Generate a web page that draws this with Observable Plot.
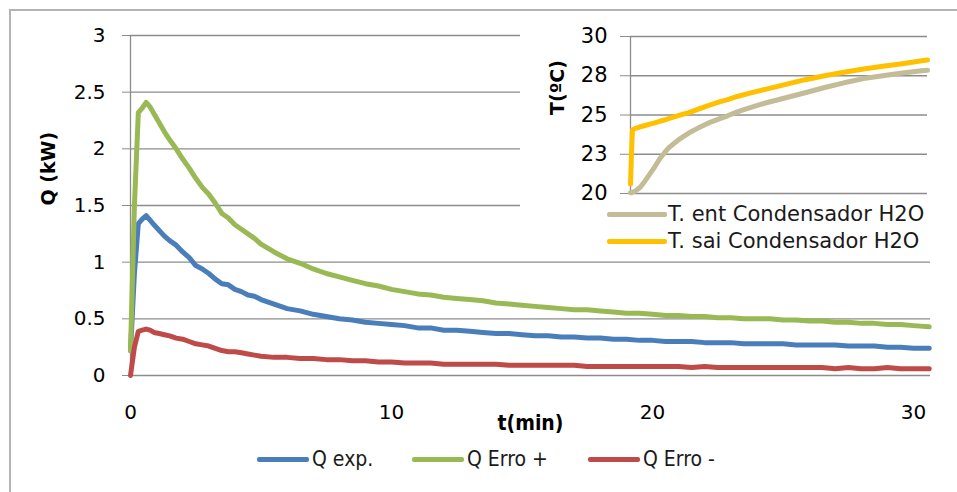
<!DOCTYPE html>
<html>
<head>
<meta charset="utf-8">
<script src="https://cdn.jsdelivr.net/npm/d3@7"></script>
<script src="https://cdn.jsdelivr.net/npm/@observablehq/plot@0.6"></script>
<style>
  html, body { margin: 0; padding: 0; background: #fff; }
  #wrap { position: relative; width: 957px; height: 492px; overflow: hidden; background: #fff; }
  #border { position: absolute; left: 9px; top: 9px; width: 1000px; height: 600px; border: 2px solid #b4b4b4; box-sizing: border-box; }
  #main { position: absolute; left: 0; top: 0; }
  #inset { position: absolute; left: 520px; top: 14px; width: 437px; height: 244px; background: #fff; }
  #insetLegend { position: absolute; left: 0; top: 188px; width: 437px; }
  .ileg { position: absolute; left: 87px; display: flex; align-items: center; font-family: "DejaVu Sans", Verdana, sans-serif; font-size: 21px; color: #1a1a1a; white-space: nowrap; }
  .ileg .sw { width: 60px; height: 5px; border-radius: 2px; margin-right: 1px; }
  #legend { position: absolute; left: 0; top: 446px; width: 957px; height: 26px; }
  .leg { position: absolute; top: 0; display: flex; align-items: center; height: 26px; font-family: "Liberation Sans Narrow", "DejaVu Sans Condensed", "DejaVu Sans", sans-serif; font-stretch: condensed; font-size: 21px; color: #1a1a1a; white-space: nowrap; }
  .leg .sw { width: 52px; height: 5px; border-radius: 2px; margin-right: 3px; }
</style>
</head>
<body>
<div id="wrap">
  <div id="border"></div>
  <div id="main"></div>
  <div id="legend"></div>
  <div id="inset"><div id="insetPlot"></div><div id="insetLegend"></div></div>
</div>
<script>
// ---------- data ----------
const timeMin = [0, 0.15, 0.3, 0.45, 0.6, 0.75, 0.9, 1.1, 1.3, 1.5, 1.75, 2, 2.25, 2.5, 2.75, 3, 3.25, 3.5, 3.75, 4, 4.25, 4.5, 4.75, 5,
  5.5, 6, 6.5, 7, 7.5, 8, 8.5, 9, 9.5, 10, 10.5, 11, 11.5, 12, 12.5, 13, 13.5, 14, 14.5, 15, 15.5, 16, 16.5, 17, 17.5, 18,
  18.5, 19, 19.5, 20, 20.5, 21, 21.5, 22, 22.5, 23, 23.5, 24, 24.5, 25, 25.5, 26, 26.5, 27, 27.5, 28, 28.5, 29, 29.5, 30, 30.6];

const qExp = [0.22, 0.90, 1.34, 1.38, 1.41, 1.37, 1.33, 1.28, 1.23, 1.19, 1.15, 1.09, 1.04, 0.97, 0.94, 0.90, 0.85, 0.81, 0.80, 0.76, 0.74, 0.71, 0.70, 0.67,
  0.63, 0.59, 0.57, 0.54, 0.52, 0.50, 0.49, 0.47, 0.46, 0.45, 0.44, 0.42, 0.42, 0.40, 0.40, 0.39, 0.38, 0.37, 0.37, 0.36, 0.35, 0.35, 0.34, 0.34, 0.33, 0.33,
  0.32, 0.32, 0.31, 0.31, 0.30, 0.30, 0.30, 0.29, 0.29, 0.29, 0.28, 0.28, 0.28, 0.28, 0.27, 0.27, 0.27, 0.27, 0.26, 0.26, 0.26, 0.25, 0.25, 0.24, 0.24];

const qErroMais = [0.22, 1.50, 2.32, 2.36, 2.41, 2.37, 2.31, 2.23, 2.15, 2.08, 2.00, 1.91, 1.83, 1.74, 1.66, 1.60, 1.52, 1.43, 1.39, 1.33, 1.29, 1.25, 1.21, 1.16,
  1.09, 1.03, 0.99, 0.94, 0.90, 0.87, 0.84, 0.81, 0.79, 0.76, 0.74, 0.72, 0.71, 0.69, 0.68, 0.67, 0.66, 0.64, 0.63, 0.62, 0.61, 0.60, 0.59, 0.58, 0.58, 0.57,
  0.56, 0.55, 0.55, 0.54, 0.53, 0.53, 0.52, 0.52, 0.51, 0.51, 0.50, 0.50, 0.50, 0.49, 0.49, 0.48, 0.48, 0.47, 0.47, 0.46, 0.46, 0.45, 0.45, 0.44, 0.43];

const qErroMenos = [0.00, 0.25, 0.39, 0.40, 0.41, 0.40, 0.38, 0.37, 0.36, 0.35, 0.33, 0.32, 0.30, 0.28, 0.27, 0.26, 0.24, 0.22, 0.21, 0.21, 0.20, 0.19, 0.18, 0.17,
  0.16, 0.16, 0.15, 0.15, 0.14, 0.14, 0.13, 0.13, 0.12, 0.12, 0.11, 0.11, 0.11, 0.10, 0.10, 0.10, 0.10, 0.10, 0.09, 0.09, 0.09, 0.09, 0.09, 0.09, 0.08, 0.08,
  0.08, 0.08, 0.08, 0.08, 0.08, 0.08, 0.07, 0.08, 0.07, 0.07, 0.07, 0.07, 0.07, 0.07, 0.07, 0.07, 0.07, 0.06, 0.07, 0.06, 0.06, 0.07, 0.06, 0.06, 0.06];

const timeInset = [0, 0.1, 0.2, 0.5, 1, 1.5, 2, 2.5, 3, 3.5, 4, 5, 6, 7, 8, 9, 10, 11, 12, 14, 16, 18, 20, 22, 24, 26, 28, 30, 30.6];
const tEnt = [20.05, 20.05, 20.08, 20.15, 20.4, 20.8, 21.25, 21.7, 22.2, 22.6, 22.95, 23.45, 23.85, 24.18, 24.48, 24.72, 24.95, 25.2, 25.4, 25.78, 26.1, 26.42, 26.75, 27.05, 27.32, 27.5, 27.68, 27.82, 27.85];
const tSai = [20.6, 22.5, 24.05, 24.15, 24.25, 24.33, 24.42, 24.5, 24.6, 24.68, 24.78, 24.97, 25.15, 25.38, 25.6, 25.8, 25.98, 26.18, 26.35, 26.65, 26.95, 27.25, 27.5, 27.72, 27.93, 28.1, 28.27, 28.45, 28.5];

const qTicks = [0, 0.5, 1, 1.5, 2, 2.5, 3];
const tTicks = [0, 10, 20, 30];
const tempTicks = [20, 22.5, 25, 27.5, 30];

const mainNames = ["Q exp.", "Q Erro +", "Q Erro -"];
const mainColors = ["#4a7ebb", "#98b954", "#be4b48"];
const insetNames = ["T. ent Condensador H2O", "T. sai Condensador H2O"];
const insetColors = ["#c4bc96", "#ffc000"];

// ---------- tables ----------
const mainSeries = [qExp, qErroMais, qErroMenos];
const mainRows = mainSeries.flatMap((vals, i) => vals.map((v, j) => ({t: timeMin[j], q: v, s: mainNames[i]})));
const insetSeries = [tEnt, tSai];
const insetRows = insetSeries.flatMap((vals, i) => vals.map((v, j) => ({t: timeInset[j], T: v, s: insetNames[i]})));

const gridColor = "#8c8c8c";

// ---------- main chart ----------
const main = Plot.plot({
  width: 957, height: 440,
  marginLeft: 130, marginRight: 27, marginTop: 35, marginBottom: 65,
  style: {fontFamily: "DejaVu Sans, Verdana, sans-serif", fontSize: "20px", background: "transparent", color: "#000", overflow: "visible"},
  x: {domain: [0, 30.65]},
  y: {domain: [0, 3]},
  color: {domain: mainNames, range: mainColors},
  marks: [
    Plot.gridY(qTicks, {stroke: gridColor, strokeOpacity: 1, strokeWidth: 1.3}),
    Plot.ruleX([0], {stroke: gridColor, strokeWidth: 1.3}),
    Plot.axisY({ticks: qTicks, tickSize: 8, tickPadding: 17, stroke: gridColor, fill: "#000", tickFormat: d => String(d), label: null}),
    Plot.axisX({ticks: tTicks, tickSize: 0, tickPadding: 29, fill: "#000", tickFormat: d => String(d), label: null}),
    Plot.line(mainRows, {x: "t", y: "q", z: "s", stroke: "s", strokeWidth: 5, strokeLinejoin: "round", strokeLinecap: "round"}),
    Plot.text(["Q (kW)"], {frameAnchor: "left", dx: -82, rotate: -90, fontWeight: "bold", fontSize: 19, fill: "#000"}),
    Plot.text(["t(min)"], {frameAnchor: "bottom", dy: 54, fontWeight: "bold", fontSize: 21, fontFamily: "Liberation Sans Narrow, DejaVu Sans Condensed, DejaVu Sans, sans-serif", fill: "#000"})
  ]
});
document.getElementById("main").appendChild(main);

// bottom legend
const legPos = [257, 412, 588];
const legend = document.getElementById("legend");
mainNames.forEach((n, i) => {
  const d = document.createElement("div");
  d.className = "leg";
  d.style.left = legPos[i] + "px";
  d.innerHTML = `<span class="sw" style="background:${mainColors[i]}"></span><span>${n}</span>`;
  legend.appendChild(d);
});

// ---------- inset chart ----------
const inset = Plot.plot({
  width: 437, height: 190,
  marginLeft: 110, marginRight: 30, marginTop: 22, marginBottom: 11,
  style: {fontFamily: "DejaVu Sans, Verdana, sans-serif", fontSize: "21px", background: "#fff", color: "#000", overflow: "visible"},
  x: {domain: [0, 30.6]},
  y: {domain: [20, 30]},
  color: {domain: insetNames, range: insetColors},
  marks: [
    Plot.gridY(tempTicks, {stroke: gridColor, strokeOpacity: 1, strokeWidth: 1.3}),
    Plot.ruleX([0], {stroke: gridColor, strokeWidth: 1.3}),
    Plot.axisY({ticks: tempTicks, tickSize: 10, tickPadding: 13, stroke: gridColor, fill: "#000", tickFormat: d => String(Math.round(d)), label: null}),
    Plot.axisX({ticks: [], label: null}),
    Plot.line(insetRows, {x: "t", y: "T", z: "s", stroke: "s", strokeWidth: 5, strokeLinejoin: "round", strokeLinecap: "round"}),
    Plot.text(["T(ºC)"], {frameAnchor: "left", dx: -73, rotate: -90, fontWeight: "bold", fontSize: 19, fill: "#000"})
  ]
});
document.getElementById("insetPlot").appendChild(inset);

const iLeg = document.getElementById("insetLegend");
insetNames.forEach((n, i) => {
  const d = document.createElement("div");
  d.className = "ileg";
  d.style.top = (i * 27) + "px";
  d.innerHTML = `<span class="sw" style="background:${insetColors[i]}"></span><span>${n}</span>`;
  iLeg.appendChild(d);
});
</script>
</body>
</html>
